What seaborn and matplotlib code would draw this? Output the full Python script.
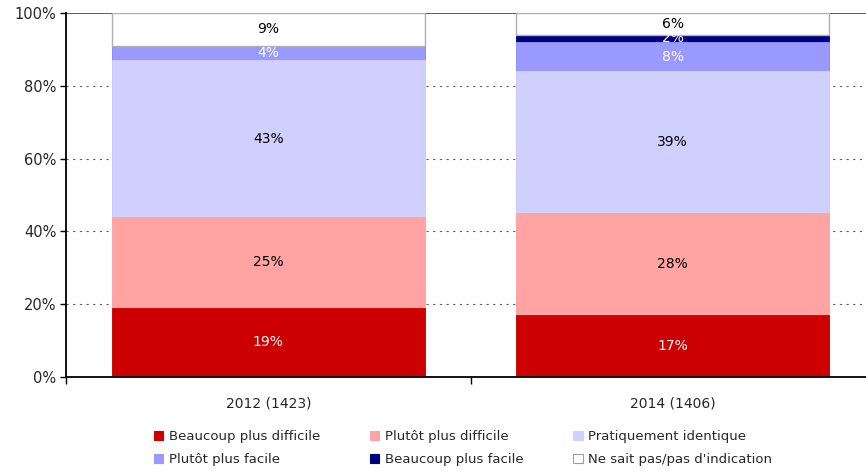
import matplotlib
matplotlib.use("Agg")
import matplotlib.pyplot as plt
from matplotlib.patches import Patch
import seaborn as sns
import pandas as pd
import numpy as np

years = ["2012 (1423)", "2014 (1406)"]
categories = ["Beaucoup plus difficile", "Plutôt plus difficile", "Pratiquement identique",
              "Plutôt plus facile", "Beaucoup plus facile", "Ne sait pas/pas d'indication"]
values = {
    "Beaucoup plus difficile": [19, 17],
    "Plutôt plus difficile": [25, 28],
    "Pratiquement identique": [43, 39],
    "Plutôt plus facile": [4, 8],
    "Beaucoup plus facile": [0, 2],
    "Ne sait pas/pas d'indication": [9, 6],
}
colors = ["#CC0000", "#FFA3A3", "#D0D0FF", "#9999FF", "#000080", "#FFFFFF"]
label_colors = ["white", "black", "black", "white", "white", "black"]
BAR_W = 0.774

sns.set_theme(style="white")
plt.rcParams["font.family"] = ["DejaVu Sans"]

fig = plt.figure(figsize=(8.66, 4.73), dpi=100)
ax = fig.add_axes([66 / 866, 1 - 377 / 473, (875 - 66) / 866, (377 - 13) / 473])

# cumulative stacks
cum = np.zeros(len(years))
cums = []
for c in categories:
    cum = cum + np.array(values[c], dtype=float)
    cums.append(cum.copy())

for i in reversed(range(len(categories))):
    df = pd.DataFrame({"year": years, "top": cums[i]})
    sns.barplot(data=df, x="year", y="top", color=colors[i], saturation=1,
                width=BAR_W, ax=ax, order=years,
                edgecolor=colors[i], linewidth=0.6, zorder=2)

# grey outline around the "Ne sait pas" segment only
last = categories[-1]
ax.bar(range(len(years)), values[last], bottom=cums[-2], width=BAR_W,
       fill=False, edgecolor="#B0B0B0", linewidth=1.0, zorder=3)

for i, c in enumerate(categories):
    for j, v in enumerate(values[c]):
        if v <= 0:
            continue
        yc = cums[i][j] - v / 2
        ax.text(j, yc, f"{v}%", ha="center", va="center", fontsize=10,
                color=label_colors[i], zorder=5)

ax.set_xlim(-0.5, 1.5)
ax.set_ylim(0, 100)
ax.set_yticks([0, 20, 40, 60, 80, 100])
ax.set_yticklabels([f"{t}%" for t in [0, 20, 40, 60, 80, 100]], fontsize=10.5)
ax.set_xlabel("")
ax.set_ylabel("")
ax.set_xticks([0, 1])
ax.set_xticklabels(years, fontsize=10)
ax.set_xticks([-0.5, 0.5, 1.5], minor=True)
ax.tick_params(axis="x", which="major", length=0, pad=14)
ax.tick_params(axis="x", which="minor", length=5, width=1, color="black", direction="out", bottom=True)
ax.tick_params(axis="y", length=4, width=1, color="black", direction="out", left=True, pad=3)

for y in [20, 40, 60, 80]:
    ax.axhline(y, color="#606060", linestyle=(0, (2, 4)), linewidth=0.8, zorder=0)
ax.axhline(100, color="#404040", linewidth=1.2, zorder=1)

for s in ["top", "right"]:
    ax.spines[s].set_visible(False)
ax.spines["left"].set_color("black")
ax.spines["bottom"].set_color("black")
ax.spines["left"].set_linewidth(1.3)
ax.spines["bottom"].set_linewidth(1.3)
ax.spines["left"].set_zorder(4)
ax.spines["bottom"].set_zorder(4)

handles = [Patch(facecolor=col, edgecolor=("#A0A0A0" if col == "#FFFFFF" else col), linewidth=0.8)
           for col in colors]
order = [0, 3, 1, 4, 2, 5]
leg = fig.legend([handles[k] for k in order], [categories[k] for k in order],
                 ncol=3, loc="lower left", bbox_to_anchor=(145 / 866, -0.005),
                 frameon=False, fontsize=9.5, handlelength=0.7, handleheight=0.7,
                 handletextpad=0.4, columnspacing=3.8, labelspacing=0.75,
                 borderaxespad=0.3)

fig.savefig("out.png", dpi=100)
